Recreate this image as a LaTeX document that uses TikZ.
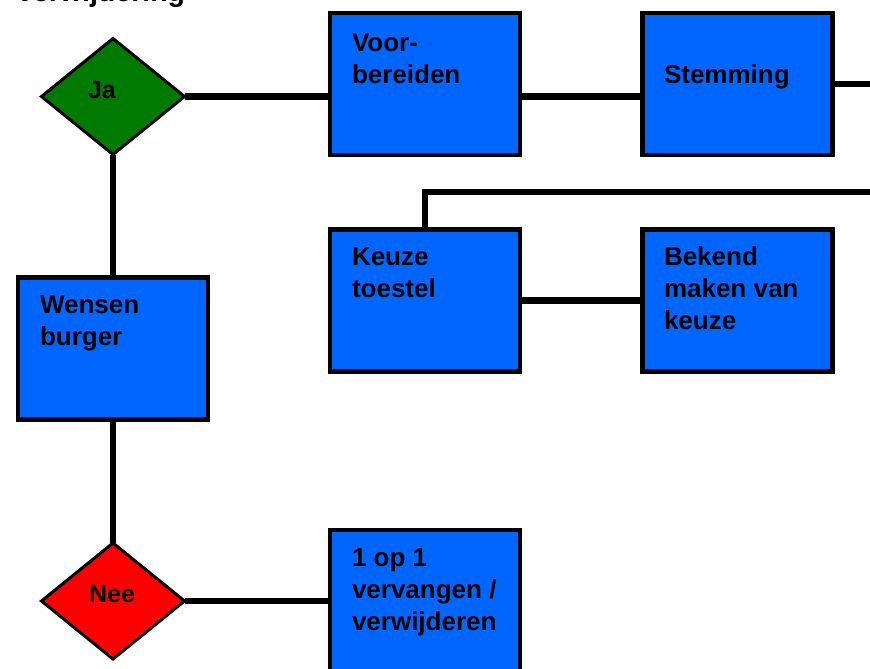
\documentclass[tikz,border=0pt]{standalone}
\usepackage{fontspec}
\setmainfont{Liberation Sans}
\usetikzlibrary{shapes.geometric,backgrounds}
\definecolor{boxblue}{RGB}{0,102,255}
\definecolor{jagreen}{RGB}{0,122,0}
\definecolor{neered}{RGB}{255,0,0}
\tikzset{
  stepbox/.style={draw=black, line width=4.8pt, fill=boxblue, rectangle,
    minimum width=190pt, minimum height=142pt, inner sep=0pt, outer sep=0pt},
  choice/.style={draw=black, line width=3pt, diamond, minimum width=143pt,
    minimum height=116pt, inner sep=0pt, outer sep=0pt},
  boxtext/.style={anchor=base west, inner sep=0pt, outer sep=0pt,
    font=\fontsize{26}{32}\selectfont\bfseries},
  choicetext/.style={anchor=base, inner sep=0pt, outer sep=0pt,
    font=\fontsize{25}{30}\selectfont\bfseries},
  link/.style={draw=black, line width=6.5pt, line join=miter}
}
\begin{document}
\begin{tikzpicture}[x=1pt, y=-1pt]
\useasboundingbox (0,0) rectangle (870,669);
\clip (0,0) rectangle (870,669);

\node[anchor=base west, inner sep=0pt, font=\fontsize{28.5}{34}\selectfont\bfseries] (title) at (17,2) {verwijdering};

\node[choice, fill=jagreen] (ja) at (113,96.5) {};
\node[choice, fill=neered] (nee) at (113,601) {};
\node[stepbox] (voor) at (425,84) {};
\node[stepbox] (stem) at (737.5,84) {};
\node[stepbox] (keuze) at (425,300.5) {};
\node[stepbox] (bekend) at (737.5,300.5) {};
\node[stepbox] (wensen) at (113,348.5) {};
\node[stepbox] (vervang) at (425,601) {};

\node[choicetext] (jat) at (102,98) {Ja};
\node[choicetext] (neet) at (112,602) {Nee};
\node[boxtext] (voort) at (352,52) {\vtop{\hbox{Voor-}\hbox{bereiden}}};
\node[boxtext] (stemt) at (664,83) {Stemming};
\node[boxtext] (keuzet) at (352,265) {\vtop{\hbox{Keuze}\hbox{toestel}}};
\node[boxtext] (bekendt) at (664,265) {\vtop{\hbox{Bekend}\hbox{maken van}\hbox{keuze}}};
\node[boxtext] (wensent) at (40,313) {\vtop{\hbox{Wensen}\hbox{burger}}};
\node[boxtext] (vervangt) at (352,566) {\vtop{\hbox{1 op 1}\hbox{vervangen /}\hbox{verwijderen}}};

\coordinate (out1) at (875,84);
\coordinate (out2) at (875,192);

\begin{scope}[on background layer]
\draw[link] (ja.east) -- (ja.east -| voor.west);
\draw[link] (voor.east |- ja.east) -- (stem.west |- ja.east);
\draw[link] (stem.east) -- (out1);
\draw[link] (out2) -- (keuze.north |- out2) -- (keuze.north);
\draw[link] (keuze.east) -- (bekend.west);
\draw[link] (ja.south) -- (ja.south |- wensen.north);
\draw[link] (wensen.south) -- (wensen.south |- nee.north);
\draw[link] (nee.east) -- (nee.east -| vervang.west);
\end{scope}
\end{tikzpicture}
\end{document}
